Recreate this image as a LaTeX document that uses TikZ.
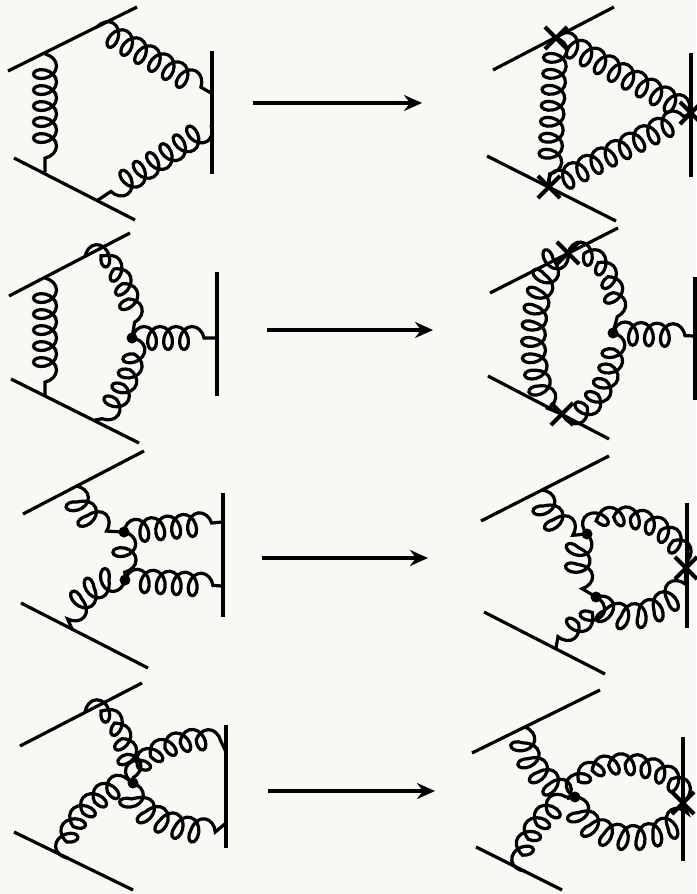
\documentclass[tikz,border=0pt]{standalone}
\usepackage{tikz}
\usetikzlibrary{decorations.pathmorphing}
\usetikzlibrary{arrows.meta}
\usetikzlibrary{shapes.misc}
\definecolor{paper}{RGB}{250,248,244}
\tikzset{gluon/.style={decorate,decoration={coil,amplitude=11.5pt,segment length=16pt,aspect=0.7}},
  xmark/.style={draw,cross out,minimum size=18pt,inner sep=0pt,line width=4.2pt},
  vtx/.style={circle,fill,inner sep=0pt,minimum size=11pt},
  maps/.style={-{Stealth[length=18pt,width=16pt,inset=6pt]}}}

\begin{document}
\begin{tikzpicture}[x=1pt,y=-1pt,line width=3.2pt]
\fill[paper] (0,0) rectangle (696,894);
\useasboundingbox (0,0) rectangle (696,894);
% row 1, left
\coordinate (u1a) at (8,71); \coordinate (u1b) at (137,7);
\coordinate (d1a) at (14,158); \coordinate (d1b) at (135,220);
\coordinate (w1a) at (212,51); \coordinate (w1b) at (212,174);
\coordinate (p1) at (45,54); \coordinate (q1) at (45,172);
\coordinate (s1) at (97,27); \coordinate (e1a) at (211,93);
\coordinate (t1) at (98,200); \coordinate (e1b) at (211,125);
\draw (u1a) -- (u1b);
\draw (d1a) -- (d1b);
\draw (w1a) -- (w1b);
\draw[gluon] (p1) -- (q1);
\draw[gluon] (s1) -- (e1a);
\draw[gluon] (e1b) -- (t1);
% row 1, right
\coordinate (u2a) at (493,70); \coordinate (u2b) at (614,7);
\coordinate (d2a) at (487,156); \coordinate (d2b) at (616,221);
\coordinate (w2a) at (691,53); \coordinate (w2b) at (691,177);
\draw (u2a) -- (u2b);
\draw (d2a) -- (d2b);
\draw (w2a) -- (w2b);
\node[xmark] (x2a) at (556,38) {};
\node[xmark] (x2b) at (549,187) {};
\node[xmark] (x2c) at (691,113) {};
\draw[gluon] (x2a.center) -- (x2b.center);
\draw[gluon] (x2a.center) -- (x2c.center);
\draw[gluon] (x2b.center) -- (x2c.center);
% row 2, left
\coordinate (u3a) at (9,296); \coordinate (u3b) at (130,233);
\coordinate (d3a) at (11,379); \coordinate (d3b) at (139,443);
\coordinate (w3a) at (217,272); \coordinate (w3b) at (217,396);
\coordinate (p3) at (45,278); \coordinate (q3) at (45,395);
\coordinate (s3) at (85,257); \coordinate (t3) at (95,420);
\coordinate (e3) at (216,338);
\coordinate (v3) at (132,338);
\draw (u3a) -- (u3b);
\draw (d3a) -- (d3b);
\draw (w3a) -- (w3b);
\draw[gluon] (p3) -- (q3);
\draw[gluon] (s3) .. controls (112,255) and (135,300) .. (v3);
\draw[gluon] (v3) .. controls (136,372) and (112,410) .. (t3);
\draw[gluon] (v3) -- (e3);
\node[vtx] (dot3) at (v3) {};
% row 2, right
\coordinate (u4a) at (490,293); \coordinate (u4b) at (618,228);
\coordinate (d4a) at (488,376); \coordinate (d4b) at (609,439);
\coordinate (w4a) at (695,277); \coordinate (w4b) at (695,400);
\coordinate (e4) at (694,336);
\coordinate (v4) at (613,333);
\draw (u4a) -- (u4b);
\draw (d4a) -- (d4b);
\draw (w4a) -- (w4b);
\node[xmark] (x4a) at (568,253) {};
\node[xmark] (x4b) at (562,414) {};
\draw[gluon] (x4a.center) .. controls (526,270) and (522,398) .. (x4b.center);
\draw[gluon] (x4a.center) .. controls (608,255) and (618,300) .. (v4);
\draw[gluon] (v4) .. controls (614,372) and (596,412) .. (x4b.center);
\draw[gluon] (v4) -- (e4);
\node[vtx] (dot4) at (v4) {};
% row 3, left
\coordinate (u5a) at (23,514); \coordinate (u5b) at (144,451);
\coordinate (d5a) at (21,603); \coordinate (d5b) at (148,668);
\coordinate (w5a) at (223,493); \coordinate (w5b) at (223,617);
\coordinate (s5) at (76,486); \coordinate (t5) at (72,629);
\coordinate (e5a) at (222,522); \coordinate (e5b) at (222,586);
\coordinate (v5a) at (124,532); \coordinate (v5b) at (125,580);
\draw (u5a) -- (u5b);
\draw (d5a) -- (d5b);
\draw (w5a) -- (w5b);
\draw[gluon] (s5) .. controls (78,512) and (100,526) .. (v5a);
\draw[gluon] (v5b) .. controls (100,580) and (72,602) .. (t5);
\draw[gluon] (v5a) -- (v5b);
\draw[gluon] (v5a) -- (e5a);
\draw[gluon] (v5b) -- (e5b);
\node[vtx] (dot5a) at (v5a) {};
\node[vtx] (dot5b) at (v5b) {};
% row 3, right
\coordinate (u6a) at (481,521); \coordinate (u6b) at (609,456);
\coordinate (d6a) at (484,612); \coordinate (d6b) at (605,674);
\coordinate (w6a) at (687,503); \coordinate (w6b) at (687,628);
\coordinate (s6) at (542,490); \coordinate (t6) at (556,648);
\coordinate (v6a) at (587,534); \coordinate (v6b) at (596,597);
\draw (u6a) -- (u6b);
\draw (d6a) -- (d6b);
\draw (w6a) -- (w6b);
\node[xmark] (x6) at (686,568) {};
\draw[gluon] (s6) .. controls (545,515) and (565,530) .. (v6a);
\draw[gluon] (v6b) .. controls (590,622) and (560,625) .. (t6);
\draw[gluon] (v6a) .. controls (574,555) and (580,585) .. (v6b);
\draw[gluon] (v6a) .. controls (605,508) and (670,515) .. (x6.center);
\draw[gluon] (v6b) .. controls (615,628) and (675,615) .. (x6.center);
\node[vtx] (dot6a) at (v6a) {};
\node[vtx] (dot6b) at (v6b) {};
% row 4, left
\coordinate (u7a) at (20,746); \coordinate (u7b) at (142,683);
\coordinate (d7a) at (14,832); \coordinate (d7b) at (133,890);
\coordinate (w7a) at (226,725); \coordinate (w7b) at (226,848);
\coordinate (s7) at (85,712); \coordinate (t7) at (68,858);
\coordinate (e7a) at (226,752); \coordinate (e7b) at (226,823);
\coordinate (v7) at (133,783);
\draw (u7a) -- (u7b);
\draw (d7a) -- (d7b);
\draw (w7a) -- (w7b);
\draw[gluon] (s7) .. controls (118,710) and (128,760) .. (v7);
\draw[gluon] (t7) .. controls (65,820) and (110,785) .. (v7);
\draw[gluon] (v7) .. controls (145,748) and (205,728) .. (e7a);
\draw[gluon] (v7) .. controls (130,815) and (200,842) .. (e7b);
\node[vtx] (dot7) at (v7) {};
% row 4, right
\coordinate (u8a) at (472,753); \coordinate (u8b) at (600,690);
\coordinate (d8a) at (476,847); \coordinate (d8b) at (562,890);
\coordinate (w8a) at (683,737); \coordinate (w8b) at (683,861);
\coordinate (s8) at (525,727); \coordinate (t8) at (525,871);
\coordinate (v8) at (575,797);
\draw (u8a) -- (u8b);
\draw (d8a) -- (d8b);
\draw (w8a) -- (w8b);
\node[xmark] (x8) at (683,803) {};
\draw[gluon] (s8) .. controls (520,762) and (555,790) .. (v8);
\draw[gluon] (t8) .. controls (520,838) and (555,802) .. (v8);
\draw[gluon] (v8) .. controls (585,752) and (675,758) .. (x8.center);
\draw[gluon] (v8) .. controls (585,848) and (675,848) .. (x8.center);
\node[vtx] (dot8) at (v8) {};
% arrows
\coordinate (r1a) at (253,103); \coordinate (r1b) at (422,103);
\coordinate (r2a) at (267,330); \coordinate (r2b) at (433,330);
\coordinate (r3a) at (262,558); \coordinate (r3b) at (428,558);
\coordinate (r4a) at (268,791); \coordinate (r4b) at (435,791);
\draw[maps] (r1a) -- (r1b);
\draw[maps] (r2a) -- (r2b);
\draw[maps] (r3a) -- (r3b);
\draw[maps] (r4a) -- (r4b);
\end{tikzpicture}
\end{document}
